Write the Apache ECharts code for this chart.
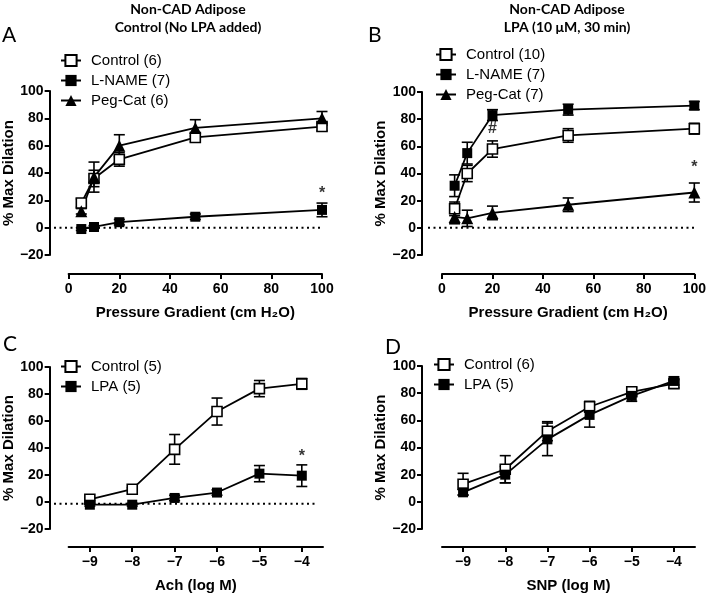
<!DOCTYPE html>
<html>
<head>
<meta charset="utf-8">
<script src="https://cdn.jsdelivr.net/npm/echarts@6/dist/echarts.min.js"></script>
<style>html,body{margin:0;padding:0;background:#fff;}#c{width:709px;height:594px;}</style>
</head>
<body>
<div id="c"></div>
<script>
// ---- data ----
const pressureX = [5, 10, 20, 50, 100];
const logX = [-9, -8, -7, -6, -5, -4];
const logTicks = [-9, -8, -7, -6, -5, -4];

const aControl = [18, 36, 50, 66, 74];
const aControlErr = [3, 6, 5, 3, 3];
const aLname = [-1, 0.5, 4, 8, 13];
const aLnameErr = [1, 1, 2, 2, 5];
const aPegcat = [12, 37, 60, 73, 80];
const aPegcatErr = [2, 11, 8, 6, 5];

const bControl = [14, 40, 58, 68, 73];
const bControlErr = [5, 6, 6, 5, 4];
const bLname = [31, 55, 83, 87, 90];
const bLnameErr = [8, 8, 4, 4, 3];
const bPegcat = [8, 7, 11, 17, 26];
const bPegcatErr = [5, 6, 5, 5, 7];

const cControl = [2, 9.5, 39, 67, 84, 87.5];
const cControlErr = [1, 1, 11, 10, 6, 4];
const cLpa = [-2, -2, 3, 7, 21, 19.5];
const cLpaErr = [1, 1, 2, 2, 6, 8];

const dControl = [13, 24, 52, 70, 81, 87];
const dControlErr = [8, 10, 7, 4, 3, 3];
const dLpa = [7, 20, 46, 64, 78, 89];
const dLpaErr = [2, 6, 12, 9, 4, 3];

const annotA = [[100, 25, '*']];
const annotB = [[20, 73, '#'], [100, 44, '*']];
const annotC = [[-4, 34, '*']];
const zeroLine = [[0, 0], [1, 0]];

// ---- chart ----
const AX = 'Liberation Sans, Arial, sans-serif';
const chart = echarts.init(document.getElementById('c'), null, {renderer: 'canvas'});

const grids = [
  {left: 67, top: 91, width: 255, height: 164},
  {left: 442, top: 92, width: 254, height: 163},
  {left: 67, top: 367, width: 256, height: 164},
  {left: 442, top: 366, width: 253, height: 164},
  // zero-line overlay grids
  {left: 54, top: 91, width: 268, height: 164},
  {left: 428, top: 92, width: 268, height: 163},
  {left: 54, top: 367, width: 264, height: 164}
];

const fmt = v => (v < 0 ? '\u2212' + Math.abs(v) : '' + v);
const axLine = {show: true, onZero: false, lineStyle: {color: '#000', width: 2}};
const axTick = {show: true, length: 5, lineStyle: {color: '#000', width: 2}};
const lblStyle = {color: '#000', fontFamily: AX, fontWeight: 'bold', fontSize: 14};
const nameStyle = {color: '#000', fontFamily: AX, fontWeight: 'bold', fontSize: 15};

function yAx(gi, off) {
  return {gridIndex: gi, type: 'value', min: -20, max: 100, interval: 20, offset: off,
    axisLine: axLine, axisTick: axTick, splitLine: {show: false},
    axisLabel: Object.assign({margin: 6, formatter: fmt}, lblStyle),
    name: '% Max Dilation', nameLocation: 'middle', nameGap: 27, nameTextStyle: nameStyle};
}
function xPress(gi, off) {
  return {gridIndex: gi, type: 'value', min: 0, max: 100, interval: 20, offset: off,
    axisLine: axLine, axisTick: axTick, splitLine: {show: false},
    axisLabel: Object.assign({margin: 8, formatter: fmt}, lblStyle),
    name: 'Pressure Gradient (cm H\u2082O)', nameLocation: 'middle', nameGap: 31, nameTextStyle: nameStyle};
}
function xLog(gi, off, name) {
  return {gridIndex: gi, type: 'value', min: -9.5, max: -3.5, offset: off,
    axisLine: axLine,
    axisTick: Object.assign({customValues: logTicks}, axTick), splitLine: {show: false},
    axisLabel: Object.assign({margin: 8, formatter: fmt, customValues: logTicks}, lblStyle),
    name: name, nameLocation: 'middle', nameGap: 31, nameTextStyle: nameStyle};
}
function hiddenX(gi) { return {gridIndex: gi, type: 'value', min: 0, max: 1, show: false}; }
function hiddenY(gi) { return {gridIndex: gi, type: 'value', min: -20, max: 100, show: false}; }

const xAxes = [xPress(0, 19), xPress(1, 19), xLog(2, 18, 'Ach (log M)'), xLog(3, 18, 'SNP (log M)'),
  hiddenX(4), hiddenX(5), hiddenX(6)];
const yAxes = [yAx(0, 19), yAx(1, 20), yAx(2, 19), yAx(3, 20), hiddenY(4), hiddenY(5), hiddenY(6)];

const series = [];
function addLine(name, xs, ys, errs, symbol, filled, gi) {
  const isTri = symbol === 'triangle';
  series.push({
    type: 'line', name: name, xAxisIndex: gi, yAxisIndex: gi, z: 3,
    data: xs.map((x, i) => [x, ys[i]]),
    symbol: symbol, symbolSize: isTri ? 12 : 10,
    lineStyle: {color: '#000', width: 1.8},
    itemStyle: {color: filled ? '#000' : '#fff', borderColor: '#000', borderWidth: filled ? 0 : 1.6},
    emphasis: {disabled: true}
  });
  series.push({
    type: 'custom', name: name + ' SEM', xAxisIndex: gi, yAxisIndex: gi, z: 1, silent: true,
    data: xs.map((x, i) => [x, ys[i], errs[i]]),
    renderItem: function (params, api) {
      const x = api.value(0), y = api.value(1), e = api.value(2);
      const t = api.coord([x, y + e]), b = api.coord([x, y - e]);
      const h = 5.5;
      const st = {stroke: '#000', lineWidth: 1.6};
      return {type: 'group', children: [
        {type: 'line', shape: {x1: t[0], y1: t[1], x2: b[0], y2: b[1]}, style: st},
        {type: 'line', shape: {x1: t[0] - h, y1: t[1], x2: t[0] + h, y2: t[1]}, style: st},
        {type: 'line', shape: {x1: b[0] - h, y1: b[1], x2: b[0] + h, y2: b[1]}, style: st}
      ]};
    }
  });
}
addLine('Control (6)', pressureX, aControl, aControlErr, 'rect', false, 0);
addLine('Peg-Cat (6)', pressureX, aPegcat, aPegcatErr, 'triangle', true, 0);
addLine('L-NAME (7)', pressureX, aLname, aLnameErr, 'rect', true, 0);

addLine('Control (10)', pressureX, bControl, bControlErr, 'rect', false, 1);
addLine('L-NAME (7) ', pressureX, bLname, bLnameErr, 'rect', true, 1);
addLine('Peg-Cat (7)', pressureX, bPegcat, bPegcatErr, 'triangle', true, 1);

addLine('Control (5)', logX, cControl, cControlErr, 'rect', false, 2);
addLine('LPA (5)', logX, cLpa, cLpaErr, 'rect', true, 2);

addLine('Control (6) ', logX, dControl, dControlErr, 'rect', false, 3);
addLine('LPA (5) ', logX, dLpa, dLpaErr, 'rect', true, 3);

function addAnnot(data, gi) {
  series.push({type: 'scatter', xAxisIndex: gi, yAxisIndex: gi, symbolSize: 0, silent: true, z: 4,
    data: data,
    label: {show: true, position: 'inside', formatter: p => p.data[2], color: '#000',
      fontFamily: AX, fontWeight: 'bold', fontSize: 16}});
}
addAnnot(annotA, 0); addAnnot(annotB, 1); addAnnot(annotC, 2);

[4, 5, 6].forEach(gi => series.push({type: 'line', xAxisIndex: gi, yAxisIndex: gi, data: zeroLine,
  symbol: 'none', silent: true, z: 0, lineStyle: {color: '#000', width: 2, type: [2, 3.5]}}));

function legend(names, left, top) {
  return {orient: 'vertical', left: left, top: top, padding: 0, itemWidth: 20, itemHeight: 14, itemGap: 5,
    data: names, selectedMode: false,
    textStyle: {color: '#000', fontFamily: AX, fontSize: 15, padding: [0, 0, 0, 5]}};
}

const option = {
  animation: false,
  backgroundColor: '#fff',
  grid: grids,
  xAxis: xAxes,
  yAxis: yAxes,
  legend: [
    legend(['Control (6)', 'L-NAME (7)', 'Peg-Cat (6)'], 60, 53),
    legend(['Control (10)', 'L-NAME (7) ', 'Peg-Cat (7)'], 435, 47),
    legend(['Control (5)', 'LPA (5)'], 60, 359),
    legend(['Control (6) ', 'LPA (5) '], 433, 357)
  ],
  graphic: [
    {type: 'text', x: 188, y: 0, style: {text: 'Non-CAD Adipose\nControl (No LPA added)', font: 'bold 14px Lato', textAlign: 'center', lineHeight: 18, fill: '#000'}},
    {type: 'text', x: 567, y: 0, style: {text: 'Non-CAD Adipose\nLPA (10 \u03bcM, 30 min)', font: 'bold 14px Lato', textAlign: 'center', lineHeight: 18, fill: '#000'}},
    {type: 'text', x: 2, y: 25, style: {text: 'A', font: '21px Lato', fill: '#000'}},
    {type: 'text', x: 368, y: 25, style: {text: 'B', font: '21px Lato', fill: '#000'}},
    {type: 'text', x: 3, y: 334, style: {text: 'C', font: '21px Lato', fill: '#000'}},
    {type: 'text', x: 385, y: 337, style: {text: 'D', font: '21px Lato', fill: '#000'}}
  ],
  series: series
};
chart.setOption(option);
</script>
</body>
</html>
